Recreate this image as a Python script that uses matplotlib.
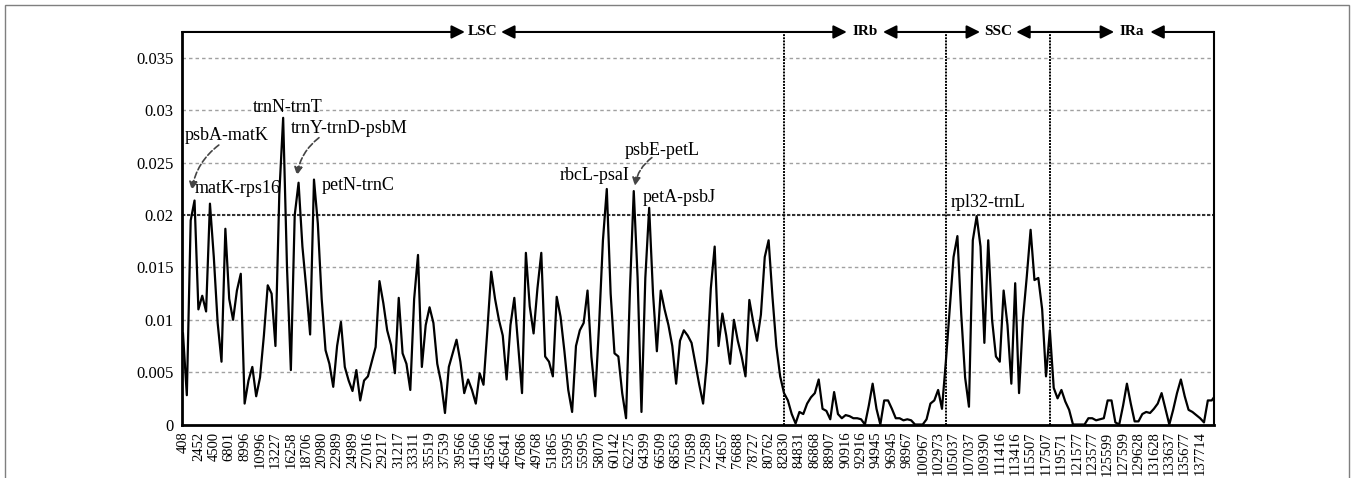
import numpy as np
import matplotlib
matplotlib.use("Agg")
import matplotlib.pyplot as plt
from matplotlib.patches import Rectangle

plt.rcParams['font.family'] = ['Liberation Serif', 'DejaVu Serif']

# alignment position printed under every 4th window
tick_labels = [408, 2452, 4500, 6801, 8996, 10996, 13227, 16258, 18706, 20980,
               22989, 24989, 27016, 29217, 31217, 33311, 35519, 37539, 39566, 41566,
               43566, 45641, 47686, 49768, 51865, 53995, 55995, 58070, 60142, 62275,
               64399, 66509, 68563, 70589, 72589, 74657, 76688, 78727, 80762, 82830,
               84831, 86868, 88907, 90916, 92916, 94945, 96945, 98967, 100967, 102973,
               105037, 107037, 109390, 111416, 113416, 115507, 117507, 119571, 121577, 123577,
               125599, 127599, 129628, 131628, 133637, 135677, 137714]
step = 4

# nucleotide diversity (x 1e-3) per window
pi_lsc = [8.7, 2.8, 19.5, 21.4, 11.0, 12.3, 10.8, 21.1, 16.0, 9.7,
          6.0, 18.7, 12.0, 10.0, 12.8, 14.4, 2.0, 4.2, 5.5, 2.7,
          4.5, 8.5, 13.3, 12.5, 7.5, 22.0, 29.3, 15.0, 5.2, 20.0,
          23.1, 17.0, 13.0, 8.6, 23.4, 19.2, 12.0, 7.1, 5.8, 3.6,
          7.5, 9.8, 5.5, 4.2, 3.2, 5.2, 2.3, 4.2, 4.6, 6.0,
          7.4, 13.7, 11.6, 9.0, 7.6, 4.9, 12.1, 6.8, 5.8, 3.3,
          12.0, 16.2, 5.5, 9.5, 11.2, 9.7, 5.8, 4.0, 1.1, 5.5,
          6.8, 8.1, 6.0, 3.0, 4.3, 3.3, 2.0, 4.9, 3.8, 9.0,
          14.6, 12.0, 10.0, 8.5, 4.3, 9.5, 12.1, 7.5, 3.0, 16.4,
          11.3, 8.7, 13.0, 16.4, 6.5, 6.0, 4.6, 12.2, 10.3, 7.0,
          3.3, 1.2, 7.5, 9.0, 9.7, 12.8, 6.5, 2.7, 9.5, 17.6,
          22.5, 12.5, 6.8, 6.5, 3.0, 0.6, 12.8, 22.3, 14.0, 1.2,
          14.0, 20.7, 12.5, 7.0, 12.8, 11.0, 9.5, 7.5, 3.9, 8.0,
          9.0, 8.5, 7.8, 5.8, 3.8, 2.0, 6.0, 13.0, 17.0, 7.5,
          10.6, 8.5, 5.8, 10.0, 8.0, 6.5, 4.6, 11.9, 9.8, 8.0,
          10.5, 16.0, 17.6, 12.2, 7.5, 4.6]
pi_irb = [3.0, 2.3, 1.0, 0.1, 1.2, 1.0, 2.0, 2.6, 3.0, 4.3,
          1.5, 1.3, 0.5, 3.1, 1.0, 0.6, 0.9, 0.8, 0.6, 0.6,
          0.5, 0.0, 1.8, 3.9, 1.5, 0.0, 2.3, 2.3, 1.5, 0.6,
          0.6, 0.4, 0.5, 0.4, 0.0, 0.0, 0.0, 0.5, 2.0, 2.3,
          3.3, 1.5]
pi_ssc = [6.0, 11.0, 16.0, 18.0, 10.5, 4.5, 1.7, 17.6, 19.9, 17.0,
          7.8, 17.6, 10.0, 6.5, 6.0, 12.8, 9.5, 3.9, 13.5, 3.0,
          10.0, 14.1, 18.6, 13.8, 14.0, 11.0, 4.6, 9.0]
pi_ira = [3.5, 2.5, 3.3, 2.2, 1.4, 0.0, 0.0, 0.0, 0.0, 0.6,
          0.6, 0.4, 0.5, 0.6, 2.3, 2.3, 0.2, 0.0, 1.8, 3.9,
          2.0, 0.3, 0.3, 1.0, 1.2, 1.1, 1.5, 2.0, 3.0, 1.5,
          0.0, 1.4, 3.0, 4.3, 2.7, 1.4, 1.2, 0.9, 0.6, 0.2,
          2.3, 2.3, 2.8]

regions = ['LSC', 'IRb', 'SSC', 'IRa']
# region junctions along the alignment
junctions = [82830, 104000, 118100]

# labelled hotspots: name, text position (window, pi), arrow (start, end) or None
hotspots = [
    ('psbA-matK', 0.5, 27.6, (9.3, 26.7), (2.3, 22.4)),
    ('matK-rps16', 3.1, 22.5, None, None),
    ('trnN-trnT', 18.2, 30.3, None, None),
    ('trnY-trnD-psbM', 28.0, 28.3, (35.3, 27.4), (29.6, 23.8)),
    ('petN-trnC', 36.1, 22.8, None, None),
    ('rbcL-psaI', 97.8, 23.8, None, None),
    ('psbE-petL', 114.7, 26.2, (121.7, 25.5), (117.3, 22.8)),
    ('petA-psbJ', 119.4, 21.7, None, None),
    ('rpl32-trnL', 199.3, 21.2, None, None),
]

pi = np.array(pi_lsc + pi_irb + pi_ssc + pi_ira) / 1000.0
x = np.arange(len(pi))
tick_pos = np.arange(len(tick_labels)) * step
junction_x = np.interp(junctions, tick_labels, tick_pos)

fig = plt.figure(figsize=(13.54, 4.78), dpi=100)
ax = fig.add_axes([0.1344, 0.1119, 0.7622, 0.8212])
x_lo, x_hi = -0.26, 267.6
ax.set_xlim(x_lo, x_hi)
ax.set_ylim(0, 0.0375)

# horizontal reference lines
for yv in np.arange(0.005, 0.036, 0.005):
    if abs(yv - 0.02) < 1e-9:
        ax.axhline(yv, color='#333333', lw=1.5, ls=(0, (1.6, 0.8)), zorder=1)
    else:
        ax.axhline(yv, color='#a0a0a0', lw=1.0, ls=(0, (2.5, 2.2)), zorder=1)

for jx in junction_x:
    ax.axvline(jx, color='black', lw=1.4, ls=(0, (1.0, 0.6)), zorder=2)

ax.plot(x, pi, color='black', lw=1.6, zorder=3)

ax.set_yticks(np.arange(0, 0.036, 0.005))
ax.set_yticklabels(['0', '0.005', '0.01', '0.015', '0.02', '0.025', '0.03', '0.035'])
ax.set_xticks(tick_pos)
ax.set_xticklabels([str(t) for t in tick_labels], rotation=90, va='top', ha='center')
ax.tick_params(axis='y', length=0, pad=6, labelsize=12)
ax.tick_params(axis='x', length=0, pad=5, labelsize=10.5)

ax.spines['top'].set_visible(False)
ax.spines['left'].set_linewidth(2.0)
ax.spines['bottom'].set_linewidth(2.0)
ax.spines['right'].set_linewidth(1.5)

# region bar along the top edge
edges = [x_lo] + list(junction_x) + [x_hi]
gap = 4.7
for name, a, b in zip(regions, edges[:-1], edges[1:]):
    mid = (a + b) / 2
    for start, end in ((a, mid - gap), (b, mid + gap)):
        ax.annotate('', xy=(end, 1), xytext=(start, 1),
                    xycoords=('data', 'axes fraction'),
                    textcoords=('data', 'axes fraction'),
                    arrowprops=dict(arrowstyle='-|>', color='black', lw=1.5,
                                    mutation_scale=20, shrinkA=0, shrinkB=0),
                    annotation_clip=False)
    ax.text(mid, 1, name, transform=ax.get_xaxis_transform(), ha='center',
            va='center', fontsize=11, fontweight='bold')

for name, tx, ty, start, end in hotspots:
    ax.text(tx, ty / 1000, name, fontsize=13, ha='left', va='center', zorder=4)
    if start is not None:
        ax.annotate('', xy=(end[0], end[1] / 1000), xytext=(start[0], start[1] / 1000),
                    arrowprops=dict(arrowstyle='-|>', color='#444444', lw=1.2, ls='--',
                                    mutation_scale=12, shrinkA=0, shrinkB=0,
                                    connectionstyle='arc3,rad=0.2'),
                    zorder=4)

fig.patches.append(Rectangle((5 / 1354, -0.05), 1344 / 1354, 1.05 - 5 / 478,
                             transform=fig.transFigure, fill=False,
                             edgecolor='#7f7f7f', lw=1.0))

fig.savefig('out.png', dpi=100)
